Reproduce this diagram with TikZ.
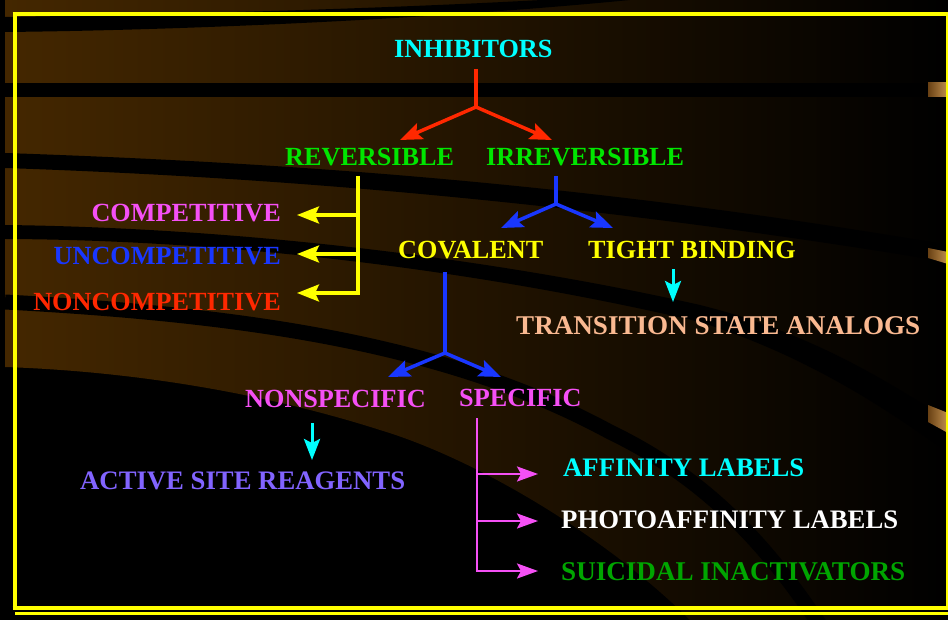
\documentclass[tikz,border=0pt]{standalone}
\usepackage{fontspec}
\setmainfont{Liberation Serif}
\usetikzlibrary{arrows.meta}
\definecolor{bgbrown}{RGB}{68,39,0}
\definecolor{cy}{RGB}{0,255,255}
\definecolor{gr}{RGB}{0,230,0}
\definecolor{pk}{RGB}{245,80,245}
\definecolor{bl}{RGB}{25,55,255}
\definecolor{rd}{RGB}{255,40,0}
\definecolor{yl}{RGB}{255,255,0}
\definecolor{peach}{RGB}{250,185,145}
\definecolor{lav}{RGB}{130,100,255}
\definecolor{dgr}{RGB}{0,165,0}
\definecolor{ltbrown}{RGB}{195,145,80}
\definecolor{mdbrown}{RGB}{105,65,20}
\begin{document}
\begin{tikzpicture}[x=1pt,y=-1pt,
  lbl/.style={font=\bfseries\fontsize{26.2}{30}\selectfont, inner sep=0pt},
  lblw/.style={font=\bfseries\fontsize{26.7}{30}\selectfont, inner sep=0pt},
  lblww/.style={font=\bfseries\fontsize{27.1}{30}\selectfont, inner sep=0pt},
  conn/.style={line width=3.5pt, -{Stealth[length=22pt,width=17pt,inset=4pt]}},
  thinconn/.style={line width=3pt, -{Stealth[length=21pt,width=16pt,inset=4pt]}},
  pkconn/.style={line width=2.5pt, -{Stealth[length=21pt,width=15pt,inset=4pt]}},
  stem/.style={line width=3.5pt},
  stripe/.style={fill=black},
  frame/.style={draw=yl}]

\useasboundingbox (0,0) rectangle (948,620);
% background
\fill[black] (0,0) rectangle (948,620);
\begin{scope}
  \clip (5,0) -- (948,0) -- (948,620) -- (690,620)
     .. controls (610,540) and (480,460) .. (380,430)
     .. controls (280,398) and (150,372) .. (5,367) -- cycle;
  \shade[left color=bgbrown, right color=black] (5,0) rectangle (948,620);
\end{scope}
% dark stripes
\fill[stripe] (5,17) .. controls (200,14) and (400,8) .. (560,-1) -- (640,-1)
   .. controls (450,18) and (200,30) .. (5,32) -- cycle;
\fill[stripe] (5,83) rectangle (928,97);
\fill[stripe] (5,153) .. controls (300,163) and (600,185) .. (948,245) -- (948,262)
   .. controls (600,205) and (300,178) .. (5,168) -- cycle;
\fill[stripe] (5,225) .. controls (250,228) and (500,260) .. (700,305)
   .. controls (820,335) and (900,390) .. (948,420) -- (948,452)
   .. controls (900,420) and (820,360) .. (700,322)
   .. controls (500,275) and (250,240) .. (5,239) -- cycle;
\draw[line width=15pt] (5,302) .. controls (250,315) and (450,345) .. (610,432)
   .. controls (710,480) and (770,550) .. (820,625);
% bright pieces at right edge
\shade[left color=mdbrown, right color=ltbrown] (928,83) rectangle (948,97);
\shade[left color=mdbrown, right color=ltbrown] (928,248) -- (948,252) -- (948,264) -- (928,258) -- cycle;
\shade[left color=mdbrown, right color=ltbrown] (928,405) -- (948,413) -- (948,433) -- (928,422) -- cycle;
% frame
\draw[frame, line width=4pt] (12.5,14) -- (949,14);
\draw[frame, line width=4pt] (14.5,12) -- (14.5,609.5);
\draw[frame, line width=4pt] (12.5,607.5) -- (948,607.5);
\draw[frame, line width=2pt] (947,12) -- (947,609);
\draw[frame, line width=2.5pt] (15,613.5) -- (948,613.5);

% labels
\node[lbl, text=cy, anchor=base west] (inh) at (394,58) {INHIBITORS};
\node[lbl, text=gr, anchor=base west] (rev) at (285,166) {REVERSIBLE};
\node[lbl, text=gr, anchor=base west] (irr) at (486,166) {IRREVERSIBLE};
\node[lbl, text=pk, anchor=base east] (comp) at (281,222) {COMPETITIVE};
\node[lbl, text=bl, anchor=base east] (uncomp) at (281,265) {UNCOMPETITIVE};
\node[lbl, text=rd, anchor=base east] (noncomp) at (281,311) {NONCOMPETITIVE};
\node[lbl, text=yl, anchor=base west] (cov) at (398,259) {COVALENT};
\node[lbl, text=yl, anchor=base west] (tight) at (588,259) {TIGHT BINDING};
\node[lblww, text=peach, anchor=base west] (trans) at (516,335) {TRANSITION STATE ANALOGS};
\node[lbl, text=pk, anchor=base west] (nonspec) at (245,407) {NONSPECIFIC};
\node[lbl, text=pk, anchor=base west] (spec) at (459,406) {SPECIFIC};
\node[lblw, text=lav, anchor=base west] (active) at (80,489) {ACTIVE SITE REAGENTS};
\node[lblw, text=cy, anchor=base west] (aff) at (563,476) {AFFINITY LABELS};
\node[lblw, text=white, anchor=base west] (photo) at (561,528) {PHOTOAFFINITY LABELS};
\node[lblww, text=dgr, anchor=base west] (suic) at (561,580) {SUICIDAL INACTIVATORS};

% connector points
\coordinate (r0) at (476,69);  \coordinate (rj) at (476,107);
\coordinate (rL) at (400,140); \coordinate (rR) at (552,140);
\coordinate (b0) at (556,176); \coordinate (bj) at (556,204);
\coordinate (bL) at (501,228); \coordinate (bR) at (613,228);
\coordinate (y0) at (358,176); \coordinate (y1) at (358,215);
\coordinate (y2) at (358,254); \coordinate (y3) at (358,293);
\coordinate (yt1) at (297,215); \coordinate (yt2) at (297,254); \coordinate (yt3) at (297,293);
\coordinate (c0) at (673,269); \coordinate (c1) at (673,302);
\coordinate (v0) at (445,272); \coordinate (vj) at (445,353);
\coordinate (vL) at (388,377); \coordinate (vR) at (501,377);
\coordinate (n0) at (312,423); \coordinate (n1) at (312,460);
\coordinate (p0) at (477,418); \coordinate (p1) at (477,474);
\coordinate (p2) at (477,521); \coordinate (p3) at (477,571);
\coordinate (pt1) at (538,474); \coordinate (pt2) at (538,521); \coordinate (pt3) at (538,571);

% red
\draw[stem, rd] (r0) -- (rj);
\draw[conn, rd] (rj) -- (rL);
\draw[conn, rd] (rj) -- (rR);
% blue irreversible
\draw[stem, bl] (b0) -- (bj);
\draw[conn, bl] (bj) -- (bL);
\draw[conn, bl] (bj) -- (bR);
% yellow reversible
\draw[stem, yl] (y0) -- ([yshift=1.75pt]y3);
\draw[conn, yl] (y1) -- (yt1);
\draw[conn, yl] (y2) -- (yt2);
\draw[conn, yl] ([xshift=1.75pt]y3) -- (yt3);
% cyan tight binding
\draw[thinconn, cy] (c0) -- (c1);
% blue covalent
\draw[stem, bl] (v0) -- (vj);
\draw[conn, bl] (vj) -- (vL);
\draw[conn, bl] (vj) -- (vR);
% cyan nonspecific
\draw[thinconn, cy] (n0) -- (n1);
% pink specific
\draw[line width=2.5pt, pk] (p0) -- ([yshift=1.25pt]p3);
\draw[pkconn, pk] (p1) -- (pt1);
\draw[pkconn, pk] (p2) -- (pt2);
\draw[pkconn, pk] ([xshift=-1.25pt]p3) -- (pt3);
\end{tikzpicture}
\end{document}
